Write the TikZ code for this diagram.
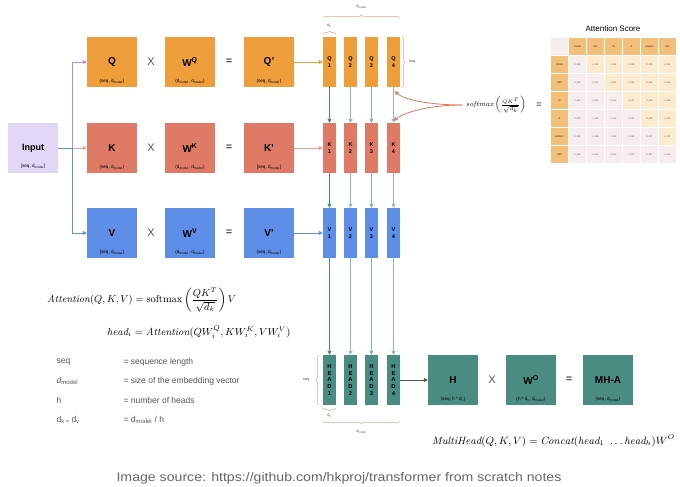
\documentclass[tikz,border=0pt]{standalone}
\usepackage{fontspec}
\usepackage{amsmath}
\newfontfamily\lsans{Liberation Sans}
\usetikzlibrary{arrows.meta,decorations.pathreplacing}
\definecolor{qor}{HTML}{EF9E3C}
\definecolor{kred}{HTML}{DF7A66}
\definecolor{vbl}{HTML}{5E8EE8}
\definecolor{hteal}{HTML}{4A8C82}
\definecolor{inp}{HTML}{E2D6F7}
\definecolor{purp}{HTML}{B08CEB}
\definecolor{tlA}{HTML}{3F8F83}
\definecolor{tlB}{HTML}{86C2B8}
\definecolor{brc}{HTML}{E9A392}
\definecolor{hdr}{HTML}{F2C07A}
\definecolor{crm}{HTML}{FCEBCF}
\definecolor{pnk}{HTML}{F8EDED}
\definecolor{txtg}{HTML}{555555}
\newcommand\bx[6]{%
  \node[bigbox,fill=#4] (#1) at (#2,#3) {};
  \node[font=\lsans\bfseries\fontsize{10}{12}\selectfont] (#1-l) at (#1.center) {#5};
  \node[font=\lsans\fontsize{4.6}{5}\selectfont] (#1-s) at ([yshift=-19pt]#1.center) {#6};}
\newcommand\dm{d\textsubscript{model}}
\begin{document}
\begin{tikzpicture}[x=1pt,y=-1pt,
  bigbox/.style={minimum width=50pt,minimum height=50pt,inner sep=0pt},
  colbox/.style={minimum width=13pt,minimum height=50pt,inner sep=0pt,align=center,
     font=\lsans\bfseries\fontsize{5.5}{6.5}\selectfont},
  headbox/.style={colbox,fill=hteal,font=\lsans\bfseries\fontsize{5.8}{6.8}\selectfont},
  op/.style={font=\lsans\fontsize{11}{12}\selectfont,text=txtg},
  tarr/.style={line width=0.8pt,-{Triangle[length=4pt,width=4pt]}},
  brace/.style={brc,line width=0.5pt,decorate,decoration={brace,amplitude=3pt}},
  lab/.style={font=\lsans\fontsize{4}{5}\selectfont,text=txtg},
  leg/.style={anchor=west,font=\lsans\fontsize{8.5}{10}\selectfont,text=txtg}]
\useasboundingbox (0,0) rectangle (680,487);
\fill[white] (0,0) rectangle (680,487);

% input
\node[bigbox,fill=inp] (inp) at (33,148) {};
\node[font=\lsans\bfseries\fontsize{9}{11}\selectfont] at (inp.center) {Input};
\node[font=\lsans\fontsize{4.6}{5}\selectfont] at ([yshift=-18pt]inp.center) {[seq, \dm]};

% rows
\bx{Q}{112}{62}{qor}{Q}{(seq, \dm)}
\bx{WQ}{190}{62}{qor}{W\textsuperscript{Q}}{(\dm, \dm)}
\bx{Qp}{269}{62}{qor}{Q’}{(seq, \dm)}
\bx{K}{112}{148}{kred}{K}{(seq, \dm)}
\bx{WK}{190}{148}{kred}{W\textsuperscript{K}}{(\dm, \dm)}
\bx{Kp}{269}{148}{kred}{K’}{[seq, \dm]}
\bx{V}{112}{233}{vbl}{V}{[seq, \dm]}
\bx{WV}{190}{233}{vbl}{W\textsuperscript{V}}{(\dm, \dm)}
\bx{Vp}{269}{233}{vbl}{V’}{(seq, \dm)}
\foreach \yy in {62,148,233}{
  \node[op] at (151,\yy) {X};
  \node[op,text=black] at (229,\yy) {=};}

% input connectors
\coordinate (split) at (72,148);
\draw[vbl,line width=0.8pt] (inp.east) -- (split);
\draw[purp,tarr] (split) |- (Q.west);
\draw[kred!70,tarr] (split) -- (K.west);
\draw[vbl,tarr] (split) |- (V.west);

% columns
\foreach \i/\xx in {1/329.5,2/350.5,3/371.5,4/393.5}{
  \node[colbox,fill=qor] (q\i) at (\xx,62) {Q\\\i};
  \node[colbox,fill=kred] (k\i) at (\xx,148) {K\\\i};
  \node[colbox,fill=vbl] (v\i) at (\xx,233) {V\\\i};
  \node[headbox] (h\i) at (\xx,380) {H\\E\\A\\D\\\i};
}
\foreach \i/\cc in {1/tlA,2/tlB,3/tlB!80!tlA,4/tlB}{
  \draw[\cc,tarr] (q\i) -- (k\i);
  \draw[\cc,tarr] (k\i) -- (v\i);
  \draw[\cc,tarr] (v\i) -- (h\i);
}
\draw[qor,tarr] (Qp) -- (q1);
\draw[kred!70,tarr] (Kp) -- (k1);
\draw[vbl,tarr] (Vp) -- (v1);

% braces top
\draw[brace] (323,18) -- (400,18);
\node[lab] at (361.5,7) {d\textsubscript{model}};
\draw[brace] (323,34) -- (336,34);
\node[lab] at (329.5,26) {d\textsubscript{k}};
\draw[brace] (402,37) -- (402,87);
\node[lab] at (412,62) {seq};
% braces heads
\draw[brace] (319,405) -- (319,355);
\node[lab] at (306,380) {seq};
\draw[brace] (336,408) -- (323,408);
\node[lab] at (329.5,416) {d\textsubscript{v}};
\draw[brace] (400,421) -- (323,421);
\node[lab] at (361.5,432) {d\textsubscript{model}};

% softmax
\node (sm) at (496,105) {\scriptsize$\mathit{softmax}\left(\frac{QK^T}{\sqrt{d_k}}\right)$};
\draw[kred,tarr] (sm.west) .. controls (430,105) and (405,100) .. ([xshift=1pt,yshift=-4pt]q4.south);
\draw[kred,tarr] (sm.west) .. controls (430,105) and (405,112) .. ([yshift=2pt]k4.north);
\node[op,text=black,font=\lsans\fontsize{9}{10}\selectfont] at (539,105) {=};

% attention score table
\node[font=\lsans\fontsize{8}{10}\selectfont] (tt) at (613,29) {Attention Score};
\fill[pnk] (551,38) rectangle +(17,17);
\foreach \w [count=\j] in {YOUR,CAT,IS,A,LOVELY,CAT}{
  \fill[hdr] (551+18*\j,38) rectangle +(17,17);
  \node[font=\lsans\fontsize{2.3}{3}\selectfont] at (551+18*\j+8.5,46.5) {\w};
  \fill[hdr] (551,38+18*\j) rectangle +(17,17);
  \node[font=\lsans\fontsize{2.3}{3}\selectfont] at (559.5,38+18*\j+8.5) {\w};
}
\foreach \row [count=\i] in {{0.268,0.119,0.134,0.148,0.179,0.152},{0.124,0.278,0.201,0.128,0.154,0.115},{0.147,0.132,0.262,0.097,0.218,0.145},{0.210,0.128,0.206,0.212,0.119,0.125},{0.146,0.158,0.152,0.143,0.227,0.174},{0.195,0.114,0.203,0.103,0.157,0.229}}{
  \foreach \v [count=\j] in \row {
    \ifnum\j>\i\relax\def\cc{crm}\else\def\cc{pnk}\fi
    \fill[\cc] (551+18*\j,38+18*\i) rectangle +(17,17);
    \node[font=\lsans\fontsize{2.3}{3}\selectfont,text=txtg] at (551+18*\j+8.5,38+18*\i+8.5) {\v};
  }
}

% formulas
\node[anchor=west,inner sep=0pt] (f1) at (47,300) {\scalebox{1.12}{\small$\mathit{Attention}(Q,K,V)=\mathrm{softmax}\left(\dfrac{QK^T}{\sqrt{d_k}}\right)V$}};
\node[anchor=west,inner sep=0pt] (f2) at (107,332) {\scalebox{1.14}{\small$\mathit{head}_i=\mathit{Attention}(QW_i^Q,KW_i^K,VW_i^V)$}};

% legend
\node[leg] at (53,362) {seq};
\node[leg] at (120,362) {= sequence length};
\node[leg] at (53,381) {\textit{d}\textsubscript{model}};
\node[leg] at (120,381) {= size of the embedding vector};
\node[leg] at (53,400) {h};
\node[leg] at (120,400) {= number of heads};
\node[leg] at (53,420) {d\textsubscript{k = }d\textsubscript{v}};
\node[leg] at (120,420) {= d\textsubscript{model} / h};

% multi-head output
\bx{H}{453}{380}{hteal}{H}{(seq, h * d\textsubscript{v})}
\bx{WO}{531}{380}{hteal}{W\textsuperscript{O}}{(h * d\textsubscript{v}, \dm)}
\bx{MHA}{608}{380}{hteal}{MH-A}{(seq, \dm)}
\node[op] at (492,380) {X};
\node[op,text=black] at (569,380) {=};
\draw[txtg,tarr] (h4) -- (H);
\node[anchor=west,inner sep=0pt] (f3) at (432,441) {\scalebox{1.17}{\small$\mathit{MultiHead}(Q,K,V)=\mathit{Concat}(\mathit{head}_1\ \dots\mathit{head}_h)W^O$}};

% caption
\node[font=\lsans\fontsize{12.5}{14}\selectfont,text=black!60] (cap) at (339,478) {\scalebox{1.13}[1]{Image source: https://github.com/hkproj/transformer from scratch notes}};
\end{tikzpicture}
\end{document}
